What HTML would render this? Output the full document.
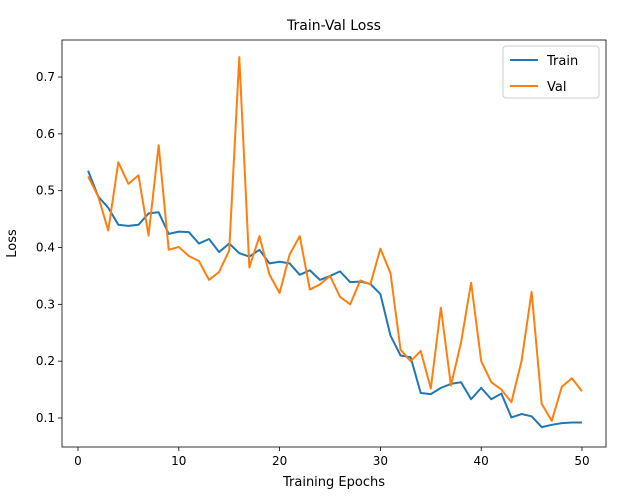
<!DOCTYPE html>
<html><head><meta charset="utf-8"><style>
body{margin:0;background:#fff;font-family:"Liberation Sans","DejaVu Sans",sans-serif}
text{font-family:"DejaVu Sans","Liberation Sans",sans-serif}
</style></head><body>
<svg id="chart" width="644" height="497" xmlns="http://www.w3.org/2000/svg"></svg>
<script>
const epochs = Array.from({length:50},(_,i)=>i+1);
const trainLoss = [0.535,0.49,0.47,0.44,0.438,0.44,0.46,0.462,0.424,0.428,0.427,0.407,0.415,0.392,0.407,0.39,0.384,0.396,0.372,0.375,0.372,0.352,0.36,0.343,0.35,0.358,0.339,0.34,0.336,0.318,0.245,0.21,0.207,0.144,0.142,0.153,0.16,0.163,0.133,0.153,0.133,0.143,0.101,0.107,0.103,0.084,0.088,0.091,0.092,0.092];
const valLoss = [0.525,0.49,0.43,0.55,0.512,0.527,0.421,0.58,0.396,0.401,0.385,0.376,0.343,0.357,0.395,0.735,0.365,0.42,0.352,0.32,0.388,0.42,0.326,0.335,0.35,0.313,0.3,0.342,0.335,0.398,0.355,0.22,0.2,0.218,0.152,0.294,0.157,0.233,0.338,0.2,0.163,0.15,0.128,0.2,0.322,0.125,0.095,0.155,0.17,0.147];
const xTicks = [0,10,20,30,40,50];
const yTicks = [0.1,0.2,0.3,0.4,0.5,0.6,0.7];
const L=62,R=606,T=40,B=447;
const xs=e=>78+e*10.08;
const ys=v=>418-(v-0.1)*568.3;
const svg=document.getElementById('chart');
const NS='http://www.w3.org/2000/svg';
function mk(tag,attrs,parent){const el=document.createElementNS(NS,tag);for(const k in attrs)el.setAttribute(k,attrs[k]);(parent||svg).appendChild(el);return el;}
let t;
t=mk('text',{x:(L+R)/2,y:30,'text-anchor':'middle','font-size':14,fill:'#000'});t.textContent='Train-Val Loss';


xTicks.forEach(v=>{
  const tk=mk('line',{x1:xs(v),x2:xs(v),y1:B,y2:B+4,stroke:'#000','stroke-width':0.8});
  
  
  const lb=mk('text',{x:xs(v),y:B+18,'text-anchor':'middle','font-size':12});lb.textContent=v;
  
  
});
yTicks.forEach(v=>{
  const tk=mk('line',{x1:L-4,x2:L,y1:ys(v),y2:ys(v),stroke:'#000','stroke-width':0.8});
  
  
  const lb=mk('text',{x:L-7,y:ys(v)+4,'text-anchor':'end','font-size':12});lb.textContent=v.toFixed(1);
  
  
});
t=mk('text',{x:(L+R)/2,y:486,'text-anchor':'middle','font-size':13});t.textContent='Training Epochs';


t=mk('text',{x:16,y:(T+B)/2,'text-anchor':'middle','font-size':13,transform:`rotate(-90 16 ${(T+B)/2})`});t.textContent='Loss';


function line(data,color,name){
  const p=mk('polyline',{points:data.map((v,i)=>xs(epochs[i])+','+ys(v)).join(' '),fill:'none',stroke:color,'stroke-width':2,'stroke-linejoin':'round'});
  
  
}
line(trainLoss,'#1f77b4','train-line');
line(valLoss,'#ff7f0e','val-line');
const fr=mk('rect',{x:L,y:T,width:R-L,height:B-T,fill:'none',stroke:'#000','stroke-width':0.8});


const lg=mk('g',{});


mk('rect',{x:503,y:46,width:96,height:52,rx:3,fill:'#fff',stroke:'#ccc'},lg);
[['Train','#1f77b4',60],['Val','#ff7f0e',86]].forEach(([n,c,y])=>{
  const e=mk('g',{},lg);
  
  
  mk('line',{x1:510,x2:538,y1:y,y2:y,stroke:c,'stroke-width':2},e);
  const tx=mk('text',{x:547,y:y+5,'font-size':13},e);tx.textContent=n;
});
</script>
</body></html>
